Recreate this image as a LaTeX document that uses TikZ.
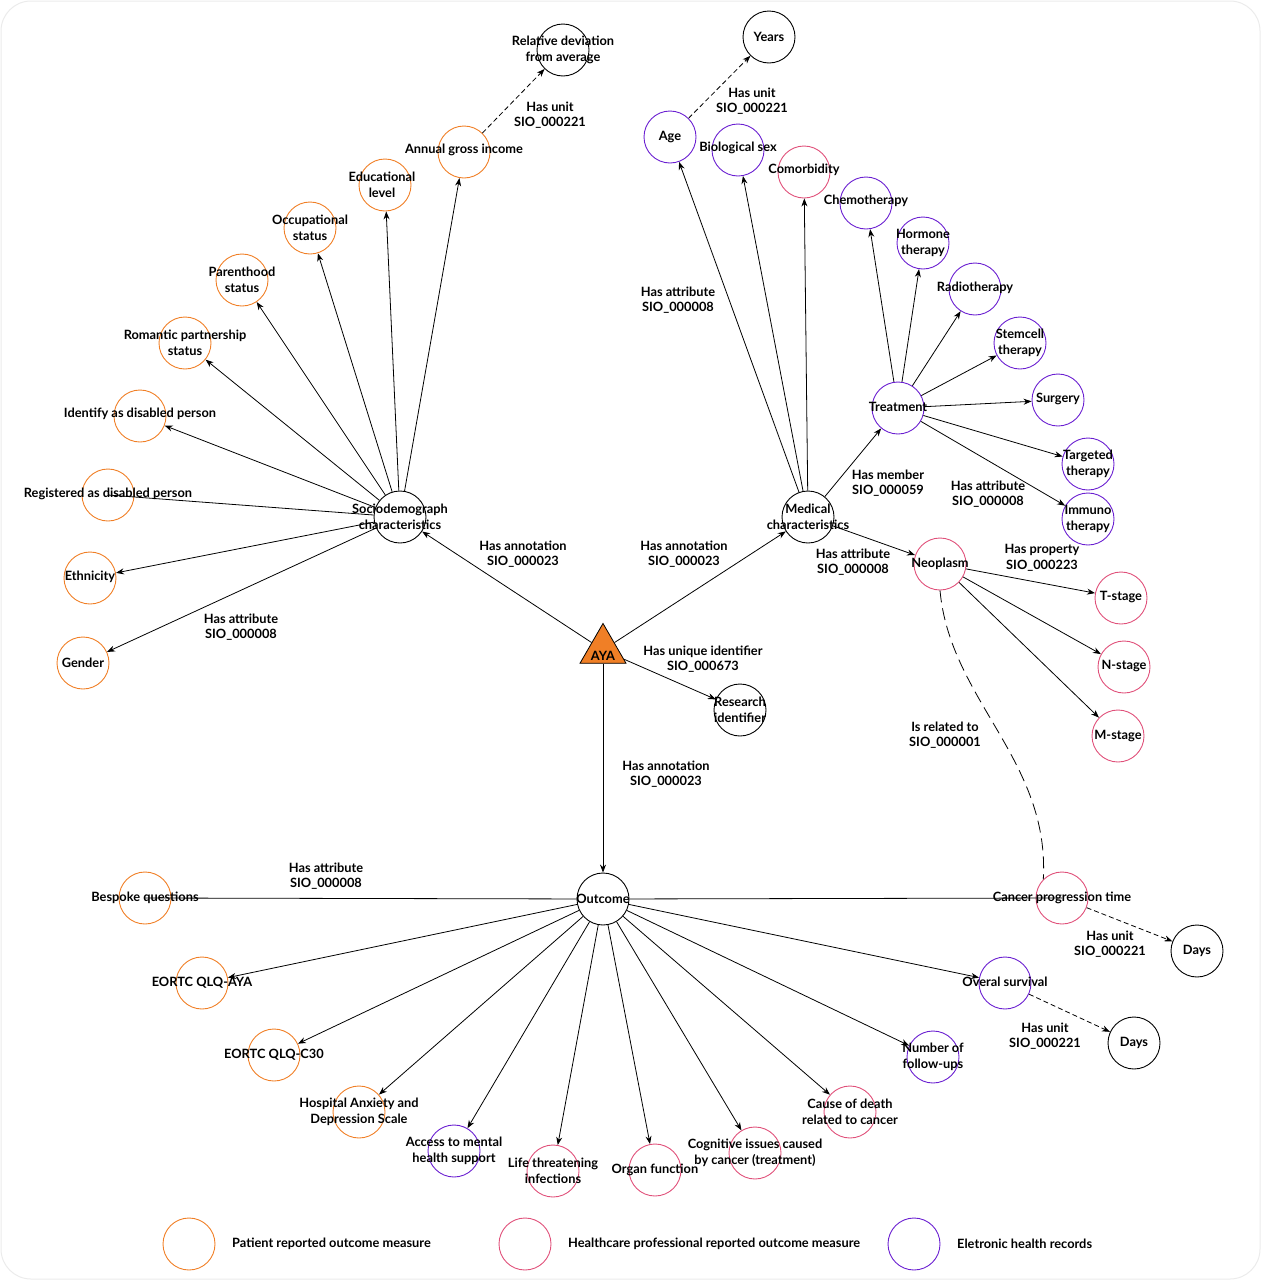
\documentclass[tikz,border=0pt]{standalone}
\usepackage{fontspec}
\setmainfont{Lato}[BoldFont={Lato Bold}]
\usetikzlibrary{arrows.meta,shapes.geometric}
\definecolor{orc}{HTML}{F07F26}
\definecolor{pkc}{HTML}{E0507A}
\definecolor{puc}{HTML}{6A1FD1}
\begin{document}
\begin{tikzpicture}[x=1pt,y=-1pt,
  c/.style={circle,minimum size=52pt,inner sep=0pt,draw=black,line width=0.9pt},
  o/.style={c,draw=orc},p/.style={c,draw=pkc},u/.style={c,draw=puc},
  t/.style={font=\fontsize{12.8}{15.5}\selectfont\bfseries,align=center,inner sep=0pt},
  a/.style={-{Stealth[length=8pt,width=6pt]},line width=0.8pt},
  d/.style={a,dash pattern=on 5pt off 3pt},
  l/.style={line width=0.8pt}]
\useasboundingbox (0,0) rectangle (1261,1280);
\draw[rounded corners=30pt,draw=black!8,line width=1pt] (1,1) rectangle (1260,1279);
% centers
\node[c] (S) at (400,517) {};
\node[c] (M) at (808,517) {};
\node[c] (R) at (740,710) {};
\node[c] (O) at (603,899) {};
\node[isosceles triangle,shape border rotate=90,isosceles triangle apex angle=60,fill=orc,draw=black,line width=0.8pt,minimum width=46pt,inner sep=0pt] (A) at (603,650) {};
% socio children
\foreach \n/\x/\y in {inc/464/152,edu/385/185,occ/310/228,par/242/280,rom/185/343,idd/140/416,reg/108/495,eth/90/578,gen/83/663}{\node[o] (\n) at (\x,\y) {};}
\node[c] (rel) at (563,50) {};
% medical
\node[u] (age) at (670,137) {};
\node[c] (yrs) at (769,37) {};
\node[u] (bio) at (738,150) {};
\node[p] (com) at (804,172) {};
\node[u] (chem) at (866,203) {};
\node[u] (trt) at (898,408) {};
\node[u] (hor) at (923,243) {};
\node[u] (rad) at (975,289) {};
\node[u] (stm) at (1020,343) {};
\node[u] (sur) at (1058,400) {};
\node[u] (tar) at (1088,464) {};
\node[u] (imm) at (1088,519) {};
\node[p] (neo) at (940,564) {};
\node[p] (ts) at (1121,598) {};
\node[p] (ns) at (1124,667) {};
\node[p] (ms) at (1118,736) {};
% outcome
\node[o] (bes) at (145,898) {};
\node[o] (aya) at (202,983) {};
\node[o] (c30) at (274,1055) {};
\node[o] (had) at (359,1112) {};
\node[u] (acc) at (454,1151) {};
\node[p] (lif) at (553,1171) {};
\node[p] (org) at (655,1170) {};
\node[p] (cog) at (755,1153) {};
\node[p] (cau) at (850,1112) {};
\node[u] (fol) at (933,1057) {};
\node[u] (ovs) at (1005,983) {};
\node[c] (d2) at (1134,1043) {};
\node[p] (cpt) at (1062,898) {};
\node[c] (d1) at (1197,951) {};
% legend
\node[o] (lg1) at (189,1244) {};
\node[p] (lg2) at (525,1244) {};
\node[u] (lg3) at (914,1244) {};
% edges
\draw[a] (A) -- (S); \draw[a] (A) -- (M); \draw[a] (A) -- (R); \draw[a] (A) -- (O);
\foreach \n in {inc,edu,occ,par,rom,idd,eth,gen}{\draw[a] (S) -- (\n);}
\draw[l] (S) -- (reg.center);
\draw[d] (inc) -- (rel);
\draw[d] (age) -- (yrs);
\foreach \n in {age,bio,com,trt,neo}{\draw[a] (M) -- (\n);}
\foreach \n in {chem,hor,rad,stm,sur,tar,imm}{\draw[a] (trt) -- (\n);}
\foreach \n in {ts,ns,ms}{\draw[a] (neo) -- (\n);}
\draw[l,dash pattern=on 12pt off 6pt] (neo.south) .. controls (950,700) and (1050,760) .. (cpt.north west);
\draw[l] (O) -- (bes.center); \draw[l] (O) -- (cpt.center);
\foreach \n in {aya,c30,had,acc,lif,org,cog,cau,fol,ovs}{\draw[a] (O) -- (\n);}
\draw[d] (ovs) -- (d2); \draw[d] (cpt) -- (d1);
% texts
\node[t] (tA) at (A.center) [yshift=-6pt] {AYA};
\node[t] (tS) at (400,517) {Sociodemograph\\characteristics};
\node[t] (tM) at (808,517) {Medical\\characteristics};
\node[t] (tR) at (740,710) {Research\\identifier};
\node[t] (tO) at (603,899) {Outcome};
\node[t] (t1) at (464,150) {Annual gross income};
\node[t] (t2) at (563,50) {Relative deviation\\from average};
\node[t] (t3) at (382,185) {Educational\\level};
\node[t] (t4) at (310,228) {Occupational\\status};
\node[t] (t5) at (242,280) {Parenthood\\status};
\node[t] (t6) at (185,343) {Romantic partnership\\status};
\node[t] (t7) at (140,414) {Identify as disabled person};
\node[t] (t8) at (108,494) {Registered as disabled person};
\node[t] (t9) at (90,577) {Ethnicity};
\node[t] (t10) at (83,663) {Gender};
\node[t] (t11) at (670,137) {Age};
\node[t] (t12) at (769,37) {Years};
\node[t] (t13) at (738,148) {Biological sex};
\node[t] (t14) at (804,170) {Comorbidity};
\node[t] (t15) at (866,201) {Chemotherapy};
\node[t] (t16) at (898,407) {Treatment};
\node[t] (t17) at (923,243) {Hormone\\therapy};
\node[t] (t18) at (975,288) {Radiotherapy};
\node[t] (t19) at (1020,343) {Stemcell\\therapy};
\node[t] (t20) at (1058,399) {Surgery};
\node[t] (t21) at (1088,464) {Targeted\\therapy};
\node[t] (t22) at (1088,519) {Immuno\\therapy};
\node[t] (t23) at (940,564) {Neoplasm};
\node[t] (t24) at (1121,597) {T-stage};
\node[t] (t25) at (1124,666) {N-stage};
\node[t] (t26) at (1118,736) {M-stage};
\node[t] (t27) at (145,898) {Bespoke questions};
\node[t] (t28) at (202,983) {EORTC QLQ-AYA};
\node[t] (t29) at (274,1055) {EORTC QLQ-C30};
\node[t] (t30) at (359,1112) {Hospital Anxiety and\\Depression Scale};
\node[t] (t31) at (454,1151) {Access to mental\\health support};
\node[t] (t32) at (553,1171) {Life threatening\\infections};
\node[t] (t33) at (655,1170) {Organ function};
\node[t] (t34) at (755,1153) {Cognitive issues caused\\by cancer (treatment)};
\node[t] (t35) at (850,1112) {Cause of death\\related to cancer};
\node[t] (t36) at (933,1057) {Number of\\follow-ups};
\node[t] (t37) at (1005,982) {Overal survival};
\node[t] (t38) at (1134,1043) {Days};
\node[t] (t39) at (1062,898) {Cancer progression time};
\node[t] (t40) at (1197,951) {Days};
% edge labels
\node[t] (e1) at (550,115) {Has unit\\SIO\_000221};
\node[t] (e2) at (752,101) {Has unit\\SIO\_000221};
\node[t] (e3) at (241,627) {Has attribute\\SIO\_000008};
\node[t] (e4) at (523,554) {Has annotation\\SIO\_000023};
\node[t] (e5) at (684,554) {Has annotation\\SIO\_000023};
\node[t] (e6) at (678,300) {Has attribute\\SIO\_000008};
\node[t] (e7) at (888,483) {Has member\\SIO\_000059};
\node[t] (e8) at (988,494) {Has attribute\\SIO\_000008};
\node[t] (e9) at (853,562) {Has attribute\\SIO\_000008};
\node[t] (e10) at (1042,558) {Has property\\SIO\_000223};
\node[t] (e11) at (703,659) {Has unique identifier\\SIO\_000673};
\node[t] (e12) at (945,735) {Is related to\\SIO\_000001};
\node[t] (e13) at (666,774) {Has annotation\\SIO\_000023};
\node[t] (e14) at (326,876) {Has attribute\\SIO\_000008};
\node[t] (e15) at (1110,944) {Has unit\\SIO\_000221};
\node[t] (e16) at (1045,1036) {Has unit\\SIO\_000221};
\node[t,anchor=west] (lt1) at (232,1244) {Patient reported outcome measure};
\node[t,anchor=west] (lt2) at (568,1244) {Healthcare professional reported outcome measure};
\node[t,anchor=west] (lt3) at (957,1244) {Eletronic health records};
\end{tikzpicture}
\end{document}
